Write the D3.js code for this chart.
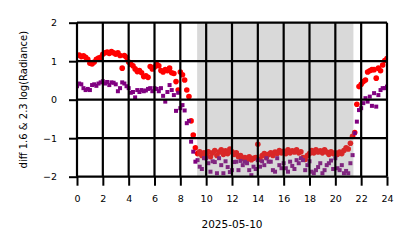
<!DOCTYPE html>
<html><head><meta charset="utf-8">
<script src="https://cdn.jsdelivr.net/npm/d3@7"></script>
<style>body{margin:0;background:#fff}svg{display:block}text{font-family:"DejaVu Sans",sans-serif}</style>
</head><body><svg id="c" width="414" height="248"></svg>
<script>
// 10-minute samples over 2025-05-10, hours 0..24
const redValues = [
 1.15,1.16,1.12,1.14,1.10,1.05,
 0.95,0.93,0.98,1.05,1.08,1.10,
 1.18,1.22,1.24,1.20,1.25,1.22,
 1.18,1.22,1.15,0.82,1.15,1.10,
 0.98,0.92,0.88,0.80,0.73,0.76,
 0.70,0.60,0.62,0.58,0.86,0.80,
 0.85,0.92,0.88,0.76,0.72,0.78,
 0.75,0.82,0.70,0.68,0.47,0.25,
 0.72,0.65,0.51,0.25,0.08,-0.55,
 -0.92,-1.25,-1.40,-1.35,-1.45,-1.38,
 -1.42,-1.35,-1.48,-1.38,-1.32,-1.45,
 -1.36,-1.30,-1.42,-1.33,-1.40,-1.28,
 -1.35,-1.42,-1.38,-1.48,-1.45,-1.52,
 -1.50,-1.55,-1.48,-1.56,-1.52,-1.50,
 -1.16,-1.55,-1.45,-1.40,-1.50,-1.42,
 -1.38,-1.45,-1.36,-1.40,-1.32,-1.38,
 -1.34,-1.40,-1.30,-1.38,-1.33,-1.36,
 -1.30,-1.38,-1.35,-1.50,-1.55,-1.45,
 -1.40,-1.32,-1.38,-1.30,-1.36,-1.33,
 -1.38,-1.30,-1.36,-1.42,-1.35,-1.40,
 -1.38,-1.42,-1.36,-1.40,-1.32,-1.25,
 -1.28,-1.13,-0.95,-0.85,-0.12,0.34,
 0.40,0.47,0.51,0.72,0.75,0.78,
 0.78,0.56,0.82,0.75,0.90,1.02,
 1.07
];
const purpleValues = [
 0.35,0.42,0.40,0.30,0.25,0.28,
 0.25,0.38,0.40,0.36,0.42,0.45,
 0.48,0.42,0.46,0.38,0.45,0.44,
 0.40,0.22,0.30,0.45,0.42,0.35,
 0.30,0.18,0.20,0.06,0.25,0.20,
 0.25,0.22,0.24,0.28,0.30,0.22,
 0.30,0.28,0.22,0.30,0.10,-0.05,
 0.20,0.38,0.25,0.12,-0.29,0.18,
 -0.22,-0.14,-0.28,-0.61,-0.55,-1.09,
 -1.35,-1.61,-1.57,-1.74,-1.80,-1.52,
 -1.52,-1.65,-1.87,-1.60,-1.62,-1.91,
 -1.52,-1.70,-1.91,-1.60,-1.75,-1.88,
 -1.83,-1.62,-1.61,-1.83,-1.59,-1.70,
 -1.61,-1.65,-1.83,-1.96,-1.74,-1.80,
 -1.57,-1.74,-1.60,-1.70,-1.52,-1.61,
 -1.61,-1.83,-1.87,-1.52,-1.70,-1.78,
 -1.65,-1.78,-1.87,-1.61,-1.72,-1.80,
 -1.57,-1.65,-1.52,-1.57,-1.83,-1.70,
 -1.60,-1.87,-1.91,-1.83,-1.75,-1.65,
 -1.91,-1.83,-1.70,-1.65,-1.58,-1.80,
 -1.52,-1.78,-1.83,-1.70,-1.91,-1.85,
 -1.91,-1.65,-1.44,-0.87,-0.57,-0.27,
 -0.22,-0.09,0.04,-0.05,0.08,-0.16,
 0.17,-0.18,0.12,0.25,0.30,0.30,
 0.34
];
const hours = redValues.map((d,i)=>i/6);
const shadeSpan = [9.3, 21.4];
const xTicks = [0,2,4,6,8,10,12,14,16,18,20,22,24];
const yTicks = [-2,-1,0,1,2];
const xLabel = "2025-05-10";
const yLabel = "diff 1.6 & 2.3  log(Radiance)";

const svg = d3.select("#c");
const L=77, R=387, T=22.7, B=176.7;
const x = d3.scaleLinear().domain([0,24]).range([L,R]);
const y = d3.scaleLinear().domain([-2,2]).range([B,T]);

svg.append("defs").append("clipPath").attr("id","clip")
  .append("rect").attr("x",L).attr("y",T).attr("width",R-L).attr("height",B-T);

const plot = svg.append("g").attr("clip-path","url(#clip)");
plot.selectAll("circle.r").data(redValues).join("circle")
  .attr("cx",(d,i)=>x(hours[i])).attr("cy",d=>y(d)).attr("r",2.8).attr("fill","#ff0000");
plot.selectAll("rect.p").data(purpleValues).join("rect")
  .attr("x",(d,i)=>x(hours[i])-2).attr("y",d=>y(d)-2).attr("width",4).attr("height",4).attr("fill","#800080");

plot.append("rect").attr("x",x(shadeSpan[0])).attr("y",T).attr("width",x(shadeSpan[1])-x(shadeSpan[0])).attr("height",B-T)
  .attr("fill","#808080").attr("opacity",0.3);

const gx = svg.append("g").attr("transform",`translate(0,${B})`)
  .call(d3.axisBottom(x).tickValues(xTicks).tickSize(9).tickPadding(10).tickFormat(d3.format("d")));
const gy = svg.append("g").attr("transform",`translate(${L},0)`)
  .call(d3.axisLeft(y).tickValues(yTicks).tickSize(8).tickPadding(12).tickFormat(d=>d<0?"\u2212"+(-d):d));
[gx,gy].forEach(g=>{
  g.select(".domain").remove();
  g.selectAll("line").attr("stroke","#000").attr("stroke-width",2);
  g.selectAll("text").attr("font-size",9.5).attr("fill","#000");
});
// grid
svg.append("g").selectAll("line").data(xTicks).join("line")
  .attr("x1",d=>x(d)).attr("x2",d=>x(d)).attr("y1",T).attr("y2",B)
  .attr("stroke","#000").attr("stroke-width",2.2);
svg.append("g").selectAll("line").data(yTicks).join("line")
  .attr("x1",L).attr("x2",R).attr("y1",d=>y(d)).attr("y2",d=>y(d))
  .attr("stroke","#000").attr("stroke-width",2.2);

svg.append("text").attr("x",(L+R)/2).attr("y",228).attr("text-anchor","middle")
  .attr("font-size",10.5).text(xLabel);
svg.append("text").attr("transform",`translate(27,${(T+B)/2}) rotate(-90)`).attr("text-anchor","middle")
  .attr("font-size",10).text(yLabel);
</script></body></html>
